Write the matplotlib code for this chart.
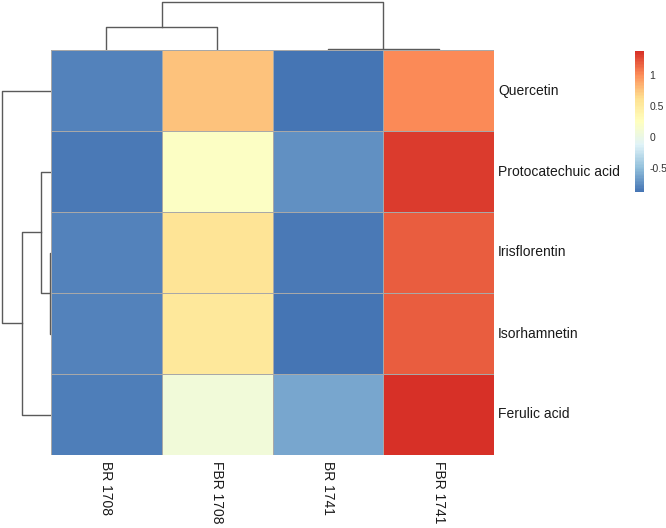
import numpy as np
import matplotlib
matplotlib.use('Agg')
import matplotlib.pyplot as plt
from matplotlib.colors import LinearSegmentedColormap, Normalize
from matplotlib.cm import ScalarMappable

plt.rcParams['font.family'] = ['Liberation Sans', 'DejaVu Sans']

# data
rows = ['Quercetin', 'Protocatechuic acid', 'Irisflorentin', 'Isorhamnetin', 'Ferulic acid']
cols = ['BR 1708', 'FBR 1708', 'BR 1741', 'FBR 1741']
br_1708 = [-0.80, -0.84, -0.81, -0.80, -0.82]
fbr_1708 = [0.75, 0.22, 0.58, 0.54, 0.07]
br_1741 = [-0.88, -0.74, -0.85, -0.86, -0.62]
fbr_1741 = [1.00, 1.33, 1.19, 1.18, 1.38]

# dendrogram merges (left index, right index, relative height)
row_merges = [(2, 3, 0.02), (1, 5, 0.20), (6, 4, 0.59), (0, 7, 1.0)]
col_merges = [(2, 3, 0.02), (0, 1, 0.48), (5, 4, 1.0)]

data = np.array([br_1708, fbr_1708, br_1741, fbr_1741]).T
vmin, vmax = data.min(), data.max()

cmap = LinearSegmentedColormap.from_list(
    'rdylbu', ['#4575B4', '#91BFDB', '#E0F3F8', '#FFFFBF', '#FEE090', '#FC8D59', '#D73027'], N=100)

W, H = 666, 528
fig = plt.figure(figsize=(W / 100, H / 100), dpi=100)


def box(x0, y0, x1, y1):
    return [x0 / W, 1 - y1 / H, (x1 - x0) / W, (y1 - y0) / H]


ax_hm = fig.add_axes(box(51, 50, 494, 455))
ax_top = fig.add_axes(box(51, 1, 494, 50))
ax_left = fig.add_axes(box(1, 50, 51, 455))
ax_cb = fig.add_axes(box(635, 51, 644, 192))

ax_hm.pcolormesh(data, cmap=cmap, vmin=vmin, vmax=vmax, edgecolors='#a8a8a8', linewidth=0.5)
ax_hm.set_xlim(0, len(cols))
ax_hm.set_ylim(len(rows), 0)
ax_hm.axis('off')

for i, r in enumerate(rows):
    ax_hm.annotate(r, xy=(len(cols), i + 0.5), xytext=(3, 0), textcoords='offset points',
                   ha='left', va='center', fontsize=10, color='#1a1a1a')
for j, c in enumerate(cols):
    ax_hm.annotate(c, xy=(j + 0.5, len(rows)), xytext=(0, -4), textcoords='offset points',
                   ha='center', va='top', rotation=-90, fontsize=10, color='#1a1a1a')


def draw_dendro(ax, merges, n, orient):
    pos = {i: i + 0.5 for i in range(n)}
    h = {i: 0.0 for i in range(n)}
    for k, (a, b, ht) in enumerate(merges):
        xs = [pos[a], pos[a], pos[b], pos[b]]
        ys = [h[a], ht, ht, h[b]]
        if orient == 'top':
            ax.plot(xs, ys, color='#5a5a5a', lw=1)
        else:
            ax.plot(ys, xs, color='#5a5a5a', lw=1)
        pos[n + k] = (pos[a] + pos[b]) / 2
        h[n + k] = ht
    ax.axis('off')


draw_dendro(ax_top, col_merges, len(cols), 'top')
ax_top.set_xlim(0, len(cols))
ax_top.set_ylim(0, 1.02)

draw_dendro(ax_left, row_merges, len(rows), 'left')
ax_left.set_ylim(len(rows), 0)
ax_left.set_xlim(1.02, 0)

cb = fig.colorbar(ScalarMappable(norm=Normalize(vmin, vmax), cmap=cmap), cax=ax_cb)
cb.outline.set_visible(False)
cb.set_ticks([-0.5, 0, 0.5, 1])
cb.set_ticklabels(['-0.5', '0', '0.5', '1'])
ax_cb.tick_params(length=0, labelsize=7.5, labelcolor='#333333', pad=4)

fig.savefig('out.png', dpi=100)
